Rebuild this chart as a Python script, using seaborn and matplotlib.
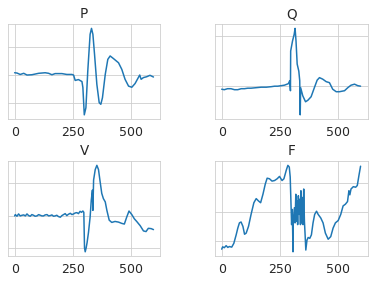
import matplotlib.pyplot as plt
import seaborn as sns

sns.set_style("whitegrid")
plt.rcParams.update({
    "xtick.labelsize": 12.5,
    "axes.titlesize": 13.5,
})

# signal P
p_x = [0, 10, 24, 39, 53, 74, 103, 131, 146, 160, 174, 203, 224, 246, 253, 260, 274, 289, 293,
       299, 306, 314, 324, 330, 336, 343, 353, 363, 370, 377, 389, 400, 410, 424, 446, 460, 474,
       489, 503, 517, 531, 537, 543, 553, 567, 581, 596]
p_y = [0.08, 0.07, 0.02, 0.06, 0.0, 0.01, 0.06, 0.08, 0.06, 0.01, 0.05, 0.05, 0.02, 0.02, 0.0,
       -0.19, -0.16, -0.23, -0.44, -1.40, -1.15, 0.14, 1.43, 1.64, 1.43, 0.73, -0.33, -0.97, -1.03,
       -0.80, 0.02, 0.55, 0.67, 0.58, 0.43, 0.20, -0.15, -0.39, -0.43, -0.30, -0.09, 0.0, -0.15,
       -0.09, -0.06, -0.01, -0.07]

# signal Q
q_x = [0, 11, 25, 40, 55, 69, 84, 98, 112, 126, 148, 170, 192, 213, 228, 241, 256, 270, 287, 293,
       296, 297, 305, 312, 316, 320, 325, 332, 336, 338, 340, 349, 361, 371, 385, 399, 411, 421,
       435, 450, 464, 478, 493, 507, 529, 543, 557, 572, 586, 598]
q_y = [-0.06, -0.07, -0.05, -0.05, -0.07, -0.07, -0.05, -0.05, -0.04, -0.04, -0.03, -0.02, -0.02,
       -0.01, 0.0, 0.0, 0.01, 0.02, 0.05, 0.11, -0.09, 0.70, 0.90, 1.03, 1.15, 0.90, 0.44, 0.30,
       0.11, -0.57, -0.03, -0.19, -0.31, -0.28, -0.21, -0.03, 0.12, 0.17, 0.14, 0.09, 0.07, -0.06,
       -0.11, -0.11, -0.09, -0.03, 0.02, 0.04, 0.01, 0.0]

# signal V
v_x = [0, 3, 10, 17, 24, 32, 39, 46, 53, 60, 67, 74, 81, 88, 96, 103, 110, 117, 124, 131, 139, 146,
       153, 160, 167, 174, 181, 188, 196, 203, 210, 217, 224, 231, 239, 246, 253, 260, 267, 274,
       281, 287, 293, 297, 300, 303, 307, 311, 317, 324, 329, 334, 336, 339, 346, 353, 360, 367,
       374, 381, 389, 396, 406, 417, 431, 446, 460, 471, 481, 491, 503, 514, 524, 539, 553, 564,
       574, 586, 596]
v_y = [-0.01, 0.03, -0.02, 0.05, -0.01, 0.01, 0.02, -0.01, 0.05, 0.0, -0.02, 0.03, 0.01, -0.02,
       -0.01, 0.03, 0.01, -0.01, -0.01, 0.02, 0.03, -0.01, 0.0, 0.02, -0.02, -0.01, 0.01, -0.03,
       -0.05, 0.0, 0.03, 0.06, 0.0, 0.04, 0.07, 0.03, 0.05, 0.08, 0.09, 0.06, 0.13, 0.10, 0.14,
       0.10, -0.99, -1.11, -0.99, -0.83, -0.52, -0.05, 0.47, 0.78, 0.16, 1.09, 1.41, 1.54, 1.41,
       1.04, 0.68, 0.52, 0.42, 0.16, -0.14, -0.21, -0.18, -0.20, -0.24, -0.26, -0.05, 0.14, 0.03,
       -0.10, -0.18, -0.31, -0.47, -0.49, -0.39, -0.40, -0.43]

# signal F
f_x = [0, 4, 11, 19, 26, 33, 43, 52, 62, 69, 76, 83, 91, 98, 105, 115, 126, 138, 148, 158, 167,
       177, 187, 195, 205, 216, 227, 238, 248, 259, 267, 277, 284, 290, 294, 297, 300, 303, 306,
       307, 312, 315, 318, 320, 323, 326, 329, 332, 335, 338, 340, 343, 346, 349, 352, 355, 358,
       361, 366, 371, 378, 385, 392, 399, 407, 414, 425, 435, 445, 457, 468, 478, 488, 500, 511,
       521, 531, 540, 546, 550, 555, 565, 575, 582, 589, 596]
f_y = [-1.28, -1.20, -1.23, -1.16, -1.22, -1.19, -1.21, -1.08, -0.79, -0.56, -0.38, -0.35, -0.50,
       -0.77, -0.73, -0.50, -0.09, 0.31, 0.45, 0.37, 0.31, 0.60, 0.95, 1.15, 1.13, 1.05, 1.07, 1.13,
       1.21, 1.07, 1.13, 1.42, 1.59, 1.53, 1.19, 0.37, -0.44, 0.08, -1.37, -0.44, 0.14, -0.38, 0.60,
       -0.33, 0.37, -0.44, 0.55, -0.09, 0.43, -0.44, 0.72, -0.38, 0.49, -0.44, 0.78, -0.33, -0.79,
       -1.31, -0.97, -0.88, -0.91, -0.79, -0.38, -0.09, 0.02, -0.09, -0.21, -0.38, -0.73, -0.94,
       -0.85, -0.56, -0.38, -0.30, -0.09, 0.20, 0.26, 0.35, 0.72, 0.58, 0.78, 0.86, 0.84, 0.90, 1.24,
       1.56]

panels = [
    ("P", p_x, p_y, [-1, 0, 1]),
    ("Q", q_x, q_y, [0, 1]),
    ("V", v_x, v_y, [-1, 0, 1]),
    ("F", f_x, f_y, [-1, 0, 1]),
]

fig, axes = plt.subplots(2, 2, figsize=(375 / 72, 283 / 72), dpi=72)
fig.subplots_adjust(left=0.0205, right=0.98, bottom=0.095, top=0.915,
                    wspace=0.356, hspace=0.44)

for ax, (name, xs, ys, yt) in zip(axes.flat, panels):
    sns.lineplot(x=xs, y=ys, ax=ax, color="tab:blue", linewidth=1.5)
    ax.set_title(name)
    ax.set_xticks([0, 250, 500])
    ax.set_yticks(yt)
    ax.set_yticklabels([])

fig.savefig("out.png", dpi=72)
